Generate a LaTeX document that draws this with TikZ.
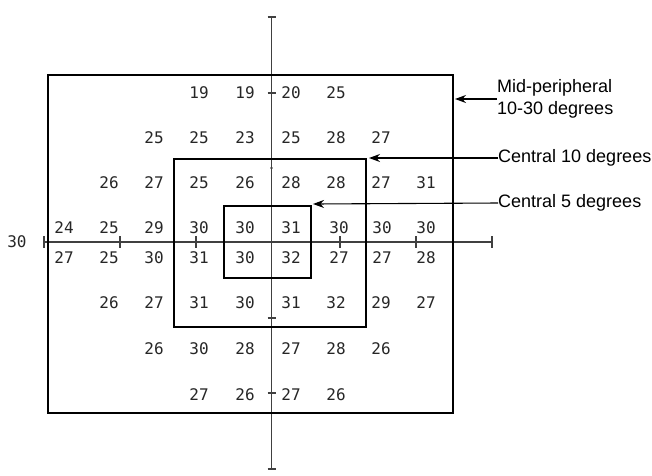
\documentclass[tikz,border=0pt]{standalone}
\usepackage{fontspec}
\setmainfont{Liberation Sans}
\newfontfamily\numfont{DejaVu Sans Mono}
\usetikzlibrary{arrows.meta,calc}
\definecolor{numgray}{HTML}{262626}
\definecolor{axisgray}{HTML}{404040}
\begin{document}
\begin{tikzpicture}[x=1pt,y=-1pt,
  num/.style={font=\numfont\fontsize{16}{16}\selectfont, text=numgray, inner sep=0pt},
  lbl/.style={font=\fontsize{18}{22}\selectfont, anchor=west, inner sep=0pt, align=left},
  frame/.style={draw=black, line width=1.4pt, fill=none},
  axis/.style={draw=axisgray, line width=1.2pt},
  tick/.style={draw=axisgray, line width=1.1pt},
  pointer/.style={draw=black, line width=1.1pt, -{Stealth[length=11pt,width=8pt]}}]
\useasboundingbox (0,0) rectangle (652,475);

% axes
\coordinate (hl) at (44,242);
\coordinate (hr) at (492,242);
\coordinate (vt) at (271.5,17);
\coordinate (vb) at (271.5,469);
\draw[axis] (hl) -- (hr);
\draw[axis] (vt) -- (vb);
\foreach \x in {44,120,196,340,416,492}
  \draw[tick] (\x,236) -- (\x,248);
\foreach \y in {17,93,318,393,469}
  \draw[tick] (267.5,\y) -- (275.5,\y);
\fill[axisgray] (271.5,168) circle (1.3pt);

% rectangles
\node[frame, minimum width=405pt, minimum height=338pt, inner sep=0pt] (outer) at (250.5,244) {};
\node[frame, minimum width=192pt, minimum height=168pt, inner sep=0pt] (c10) at (270,243) {};
\node[frame, minimum width=87pt, minimum height=72pt, inner sep=0pt] (c5) at (267.5,242) {};

% left label
\node[num] (l30) at (17,242) {30};

% numbers
\foreach \v/\x [count=\i] in {19/199,19/245,20/291,25/336}
  \node[num] (r1-\i) at (\x,93) {\v};
\foreach \v/\x [count=\i] in {25/154,25/199,23/245,25/291,28/336,27/381}
  \node[num] (r2-\i) at (\x,138) {\v};
\foreach \v/\x [count=\i] in {26/109,27/154,25/199,26/245,28/291,28/336,27/381,31/426}
  \node[num] (r3-\i) at (\x,183) {\v};
\foreach \v/\x [count=\i] in {24/64,25/109,29/154,30/199,30/245,31/291,30/339,30/382,30/426}
  \node[num] (r4-\i) at (\x,228) {\v};
\foreach \v/\x [count=\i] in {27/64,25/109,30/154,31/199,30/245,32/291,27/339,27/382,28/426}
  \node[num] (r5-\i) at (\x,258) {\v};
\foreach \v/\x [count=\i] in {26/109,27/154,31/199,30/245,31/291,32/336,29/381,27/426}
  \node[num] (r6-\i) at (\x,303) {\v};
\foreach \v/\x [count=\i] in {26/154,30/199,28/245,27/291,28/336,26/381}
  \node[num] (r7-\i) at (\x,349) {\v};
\foreach \v/\x [count=\i] in {27/199,26/245,27/291,26/336}
  \node[num] (r8-\i) at (\x,395) {\v};

% labels
\node[lbl] (lmid) at (497,99) {Mid-peripheral\\10-30 degrees};
\node[lbl] (l10) at (498,158) {Central 10 degrees};
\node[lbl] (l5) at (498,203) {Central 5 degrees};

\coordinate (t1) at (455,99);
\coordinate (t2) at (369,158);
\coordinate (t3) at (313,204);
\draw[pointer] (lmid.west) -- (t1);
\draw[pointer] (l10.west) -- (t2);
\draw[pointer] (l5.west) -- (t3);
\end{tikzpicture}
\end{document}
